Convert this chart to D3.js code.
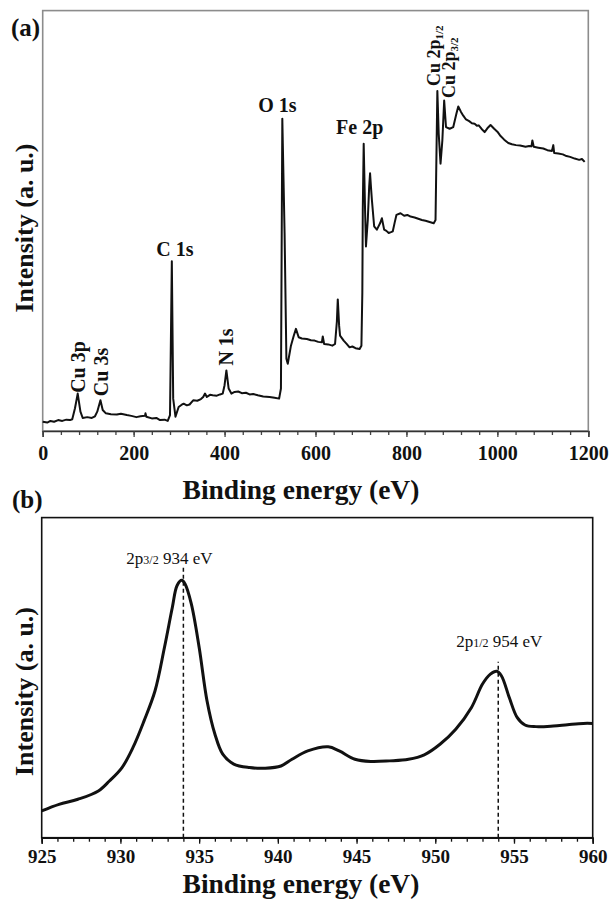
<!DOCTYPE html>
<html>
<head>
<meta charset="utf-8">
<script src="https://cdn.jsdelivr.net/npm/d3@7"></script>
<style>
  html, body { margin: 0; padding: 0; background: #fff; }
  svg { display: block; }
</style>
</head>
<body>
<svg id="chart" width="611" height="901"></svg>
<script>
// ---------- Panel (a): survey spectrum ----------
const surveyEnergy = [0,10,17,25,34,43,52,60,65,71,77,83,88,98,108,115,120,127,132,139,150,163,172,185,195,206,215,225,226,228,240,250,258,268,275,280,284,287,292,299,305,310,317,323,331,340,348,353,357,361,368,374,383,390,396,400,404,409,415,422,430,438,447,455,463,473,485,499,510,520,524,527,532,536,539,546,552,557,563,570,581,590,598,606,614,616,619,628,637,643,647,649,652,654,662,668,675,681,688,697,701,703,704,706,709,711,715,718,720,722,724,729,735,742,746,751,756,761,766,770,774,778,787,795,802,809,818,826,834,842,851,860,864,868,871,875,879,883,887,895,903,910,914,920,925,931,938,944,950,955,959,965,972,978,985,993,1000,1006,1015,1024,1032,1041,1050,1062,1070,1075,1077,1080,1090,1101,1110,1120,1123,1125,1134,1144,1152,1160,1170,1180,1186,1192];
const surveyIntensity = [2.2,2.0,2.4,2.2,2.6,2.4,2.7,2.6,2.8,5.4,8.9,4.6,3.1,3.3,3.1,3.5,4.6,7.3,5.0,4.2,4.0,3.9,4.1,3.8,3.6,3.3,3.5,3.6,4.2,3.4,3.0,3.1,2.6,2.7,2.4,3.8,40.4,7.7,3.4,5.7,6.2,6.5,6.1,6.3,7.3,7.2,7.6,8.1,8.9,8.1,8.6,8.5,8.4,8.7,8.9,10.9,14.4,10.1,8.9,9.3,9.4,9.0,9.1,8.7,8.8,8.5,8.2,8.1,7.9,7.7,10.1,74.3,47.1,17.2,16.0,20.3,22.6,24.3,22.3,22.0,21.9,21.6,21.5,21.2,21.1,22.5,20.7,20.6,20.3,20.7,26,31.3,25,22.7,21.5,20.8,19.9,20.1,19.7,19.5,20.3,32.9,52.6,68.3,52.6,43.9,50.2,58,61.3,58,55.0,48.7,47.9,49.4,50.6,47.9,47.6,47.1,47.3,47.5,49.5,51.4,51.8,51.2,51.4,51.0,50.8,50.5,50.2,50.0,49.7,49.4,50.2,80.9,70.7,63.6,69.1,78.6,72.3,71.9,72.3,75.5,77.2,75.9,75.0,74.1,73.7,73.2,73.1,72.6,72.7,71.9,71.1,72.0,72.8,71.9,71.2,70.3,69.3,68.5,68.2,68.0,67.9,67.6,67.8,67.7,69.1,67.6,67.4,67.2,66.8,66.6,68.0,66.1,66.0,65.8,65.4,65.2,64.8,64.5,64.7,64.0];
const surveyTicks = [0, 200, 400, 600, 800, 1000, 1200];
const surveyLabels = [
  { text: "O 1s",  energy: 527, rotate: false },
  { text: "Fe 2p", energy: 706, rotate: false },
  { text: "C 1s",  energy: 284, rotate: false },
  { text: "N 1s",  energy: 404, rotate: true },
  { text: "Cu 3p", energy: 77,  rotate: true },
  { text: "Cu 3s", energy: 127, rotate: true }
];

// ---------- Panel (b): Cu 2p high-resolution spectrum ----------
const cuEnergy = [925,926.1,927.3,928.6,929.3,930.1,930.8,931.5,932.2,932.8,933.3,933.6,933.9,934.1,934.5,935.0,935.5,936.0,936.5,937.2,938.2,939.2,940.2,940.9,941.9,943.2,943.9,944.9,945.9,947.1,948.3,949.3,950.3,951.3,952.3,953.0,953.5,953.9,954.2,954.7,955.2,955.7,956.4,957.5,958.4,959.4,960];
const cuIntensity = [8.35,10.4,12.0,14.6,17.7,21.9,28.2,36.5,45.9,59.5,72.0,78.8,80.4,79.3,73.1,59.5,42.8,32.4,26.1,23.0,21.9,21.7,22.4,24.5,27.1,28.4,27.1,24.5,23.8,24.0,24.5,25.9,29.2,33.9,40.7,48.0,51.1,52.0,50.6,43.8,37.6,35.2,34.7,34.9,35.3,35.7,35.7];
const cuTicks = [925, 930, 935, 940, 945, 950, 955, 960];
const cuPeaks = [
  { main: "2p", sub: "3/2", rest: " 934 eV", energy: 934, top: 84.5 },
  { main: "2p", sub: "1/2", rest: " 954 eV", energy: 954, top: 55.0 }
];

const serif = "'Liberation Serif', 'Times New Roman', Times, serif";
const svg = d3.select("#chart");

// ===== Panel (a) =====
const xa = d3.scaleLinear().domain([0, 1200]).range([42.7, 588.3]);
const ya = d3.scaleLinear().domain([0, 100]).range([431, 10.6]);

svg.append("rect")
  .attr("x", xa(0)).attr("y", ya(100))
  .attr("width", xa(1200) - xa(0)).attr("height", ya(0) - ya(100))
  .attr("fill", "none").attr("stroke", "#8c8c8c").attr("stroke-width", 1.6);

const gaMinor = svg.append("g").attr("transform", `translate(0,${ya(0)})`)
  .call(d3.axisBottom(xa).tickValues(d3.range(0, 1201, 40)).tickSize(4).tickFormat(""));
gaMinor.select(".domain").remove();
gaMinor.selectAll("line").attr("stroke", "#444").attr("stroke-width", 1.3);

const gaMajor = svg.append("g").attr("transform", `translate(0,${ya(0)})`)
  .call(d3.axisBottom(xa).tickValues(surveyTicks).tickSize(6).tickPadding(9).tickFormat(d3.format("d")));
gaMajor.select(".domain").attr("stroke", "#333").attr("stroke-width", 1.6);
gaMajor.selectAll("line").attr("stroke", "#444").attr("stroke-width", 1.3);
gaMajor.selectAll("text")
  .attr("font-family", serif).attr("font-size", 20).attr("font-weight", "bold").attr("fill", "#111");

const lineA = d3.line().x(d => xa(d[0])).y(d => ya(d[1]));
svg.append("path")
  .datum(surveyEnergy.map((e, i) => [e, surveyIntensity[i]]))
  .attr("d", lineA)
  .attr("fill", "none").attr("stroke", "#111").attr("stroke-width", 2)
  .attr("stroke-linejoin", "round");

const labelPos = {
  "O 1s":  { dx: -5,  y: 112 },
  "Fe 2p": { dx: -4,  y: 133.7 },
  "C 1s":  { dx: 3,   y: 256 },
  "N 1s":  { dx: 7,   y: 347 },
  "Cu 3p": { dx: 7.5, y: 367 },
  "Cu 3s": { dx: 7.5, y: 372 }
};
surveyLabels.forEach(l => {
  const p = labelPos[l.text];
  const t = svg.append("text")
    .attr("font-family", serif).attr("font-size", 20).attr("font-weight", "bold")
    .attr("fill", "#111").attr("text-anchor", "middle").text(l.text);
  if (l.rotate) {
    t.attr("transform", `translate(${xa(l.energy) + p.dx},${p.y}) rotate(-90)`);
  } else {
    t.attr("x", xa(l.energy) + p.dx).attr("y", p.y);
  }
});

[
  { bx: 440, by: 86, sub: "1/2" },
  { bx: 455, by: 98, sub: "3/2" }
].forEach(c => {
  const t = svg.append("text")
    .attr("transform", `translate(${c.bx},${c.by}) rotate(-90)`)
    .attr("font-family", serif).attr("font-size", 18).attr("font-weight", "bold")
    .attr("fill", "#111");
  t.append("tspan").text("Cu 2p");
  t.append("tspan").attr("font-size", 11).attr("dy", 3).text(c.sub);
});

svg.append("text").attr("x", 11).attr("y", 36)
  .attr("font-family", serif).attr("font-size", 25).attr("font-weight", "bold")
  .attr("fill", "#111").text("(a)");

svg.append("text").attr("transform", "translate(33,228) rotate(-90)")
  .attr("text-anchor", "middle")
  .attr("font-family", serif).attr("font-size", 26).attr("font-weight", "bold")
  .attr("fill", "#111").text("Intensity (a. u.)");

svg.append("text").attr("x", 301).attr("y", 499)
  .attr("text-anchor", "middle")
  .attr("font-family", serif).attr("font-size", 27.5).attr("font-weight", "bold")
  .attr("fill", "#111").text("Binding energy (eV)");

// ===== Panel (b) =====
const xb = d3.scaleLinear().domain([925, 960]).range([41.7, 592.7]);
const yb = d3.scaleLinear().domain([0, 100]).range([837.7, 517.6]);

svg.append("rect")
  .attr("x", xb(925)).attr("y", yb(100))
  .attr("width", xb(960) - xb(925)).attr("height", yb(0) - yb(100))
  .attr("fill", "none").attr("stroke", "#111").attr("stroke-width", 1.6);

const gbMinor = svg.append("g").attr("transform", `translate(0,${yb(0)})`)
  .call(d3.axisBottom(xb).tickValues(d3.range(925, 960.5, 1)).tickSize(4).tickFormat(""));
gbMinor.select(".domain").remove();
gbMinor.selectAll("line").attr("stroke", "#111").attr("stroke-width", 1.3);

const gbMajor = svg.append("g").attr("transform", `translate(0,${yb(0)})`)
  .call(d3.axisBottom(xb).tickValues(cuTicks).tickSize(6).tickPadding(6).tickFormat(d3.format("d")));
gbMajor.select(".domain").attr("stroke", "#111").attr("stroke-width", 1.6);
gbMajor.selectAll("line").attr("stroke", "#111").attr("stroke-width", 1.3);
gbMajor.selectAll("text")
  .attr("font-family", serif).attr("font-size", 19).attr("font-weight", "bold").attr("fill", "#111");

cuPeaks.forEach(p => {
  svg.append("line")
    .attr("x1", xb(p.energy)).attr("x2", xb(p.energy))
    .attr("y1", yb(0)).attr("y2", yb(p.top))
    .attr("stroke", "#111").attr("stroke-width", 1.5).attr("stroke-dasharray", "4,3");
});

const lineB = d3.line().curve(d3.curveCatmullRom.alpha(0.5)).x(d => xb(d[0])).y(d => yb(d[1]));
svg.append("path")
  .datum(cuEnergy.map((e, i) => [e, cuIntensity[i]]))
  .attr("d", lineB)
  .attr("fill", "none").attr("stroke", "#111").attr("stroke-width", 3)
  .attr("stroke-linejoin", "round");

const annoPos = [{ dx: -14, y: 564 }, { dx: 1, y: 647 }];
cuPeaks.forEach((p, i) => {
  const t = svg.append("text")
    .attr("x", xb(p.energy) + annoPos[i].dx).attr("y", annoPos[i].y)
    .attr("text-anchor", "middle")
    .attr("font-family", serif).attr("font-size", 17).attr("fill", "#111");
  t.append("tspan").text(p.main);
  t.append("tspan").attr("font-size", 12).text(p.sub);
  t.append("tspan").attr("font-size", 17).text(p.rest);
});

svg.append("text").attr("x", 12).attr("y", 508)
  .attr("font-family", serif).attr("font-size", 25).attr("font-weight", "bold")
  .attr("fill", "#111").text("(b)");

svg.append("text").attr("transform", "translate(33,691.5) rotate(-90)")
  .attr("text-anchor", "middle")
  .attr("font-family", serif).attr("font-size", 26).attr("font-weight", "bold")
  .attr("fill", "#111").text("Intensity (a. u.)");

svg.append("text").attr("x", 301).attr("y", 893)
  .attr("text-anchor", "middle")
  .attr("font-family", serif).attr("font-size", 27.5).attr("font-weight", "bold")
  .attr("fill", "#111").text("Binding energy (eV)");
</script>
</body>
</html>
